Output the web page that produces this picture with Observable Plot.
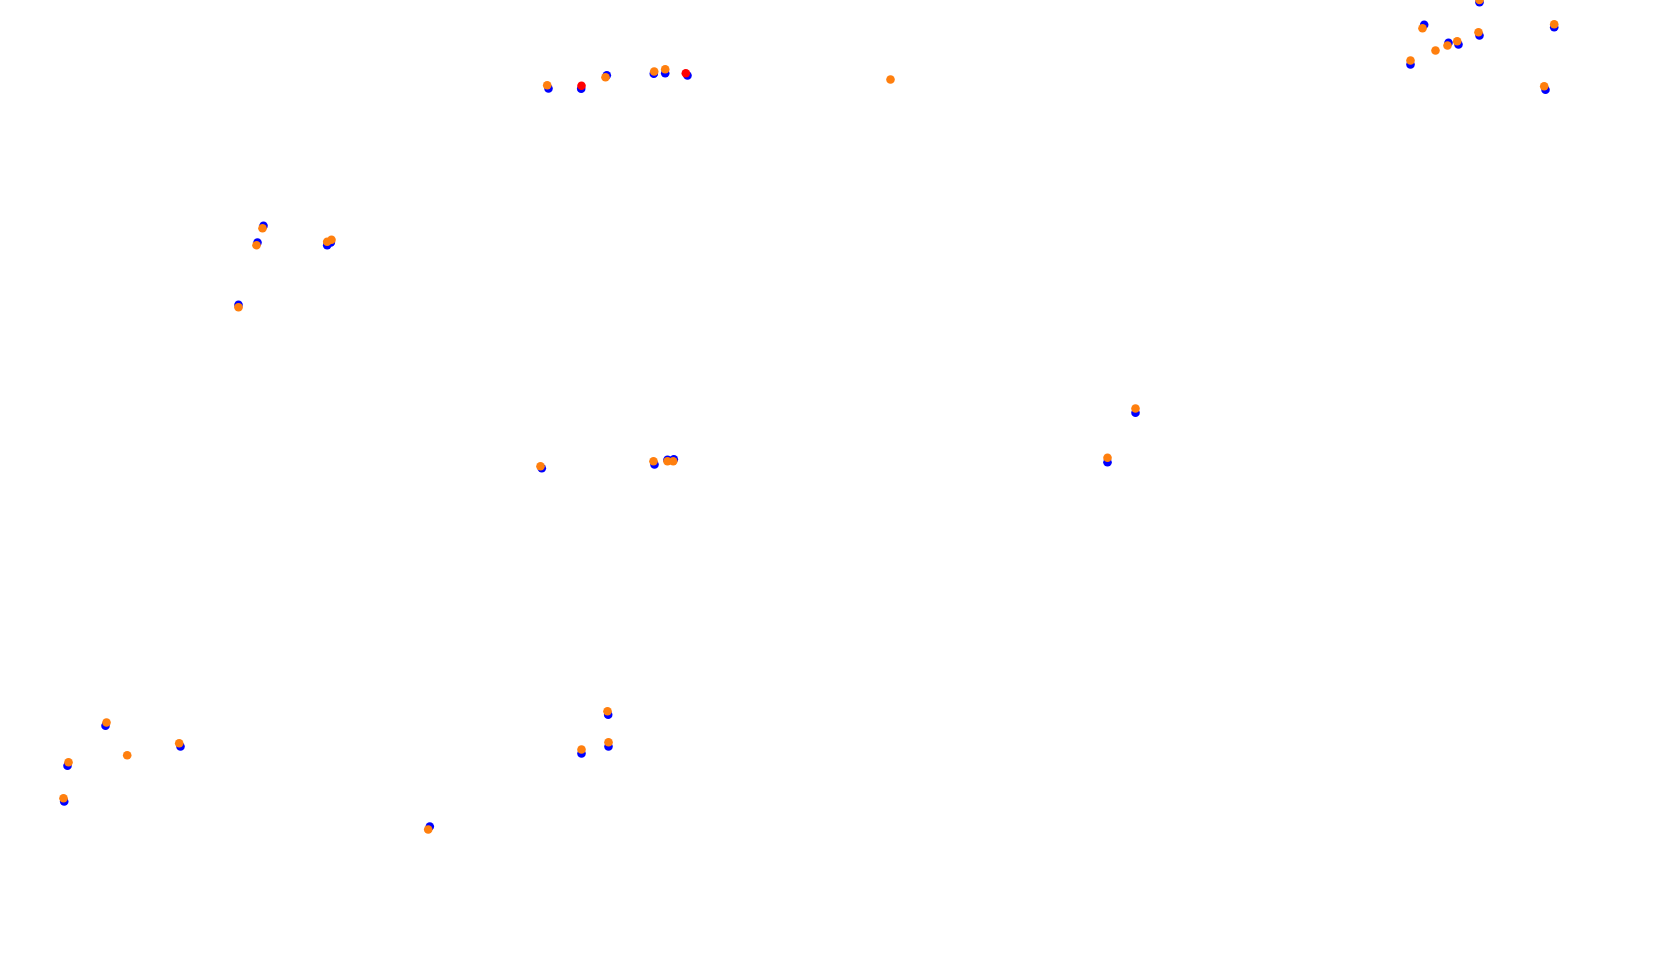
<!DOCTYPE html>
<html>
<head>
<meta charset="utf-8">
<script src="https://cdn.jsdelivr.net/npm/d3@7"></script>
<script src="https://cdn.jsdelivr.net/npm/@observablehq/plot@0.6"></script>
<style>
html, body { margin: 0; padding: 0; background: #fff; overflow: hidden; }
</style>
</head>
<body>
<div id="chart"></div>
<script>
const blueX = [548,580.7,606.3,653.3,664.7,687,1479,1423.7,1553.7,1479,1458,1448,1410,1545,263,257,326.7,330.3,238,105,180,67,63.7,654,667,673.3,607.7,608,581,1135,1107,541.3,429.3];
const blueY = [88,88.3,74.7,73.3,72.7,75,1.7,24.3,26.7,35,44,42.3,64,89.3,225.3,242,244.7,242,304.3,725.3,746,765.3,801,464,459.3,458.7,714.3,746,753,412.3,461.7,467.7,826];
const orangeX = [546.7,605,653.7,664.7,1479,1422,1553.7,1478,1456.7,1447,1435,1410,1543.7,262,256,326.7,331,238,106,178.7,126.7,68,63,653,667,672.7,607,608,581,1135,1107,890,540,427.7];
const orangeY = [84.7,76.7,71,68.7,-0.5,27.7,23.7,31.7,40.7,45,50,60,85.7,227.7,244.7,241.3,239.3,306.7,722,742.7,754.7,761.7,797.7,460.7,460.7,460.7,710.7,741.7,749,408,457.3,79,465.7,829];
const redX = [581,685.3];
const redY = [85.2,72.7];

const toRows = (xs, ys) => xs.map((x, i) => ({x, y: ys[i]}));
const blue = toRows(blueX, blueY);
const orange = toRows(orangeX, orangeY);
const red = toRows(redX, redY);

const chart = Plot.plot({
  width: 1680,
  height: 965,
  margin: 0,
  x: {domain: [0, 1680], axis: null},
  y: {domain: [0, 965], reverse: true, axis: null},
  marks: [
    Plot.dot(blue, {x: "x", y: "y", r: 4.3, fill: "#0000ff", stroke: "none"}),
    Plot.dot(orange, {x: "x", y: "y", r: 4.3, fill: "#ff7f0e", stroke: "none"}),
    Plot.dot(red, {x: "x", y: "y", r: 4.3, fill: "#ff0000", stroke: "none"})
  ]
});
document.getElementById("chart").appendChild(chart);
</script>
</body>
</html>
